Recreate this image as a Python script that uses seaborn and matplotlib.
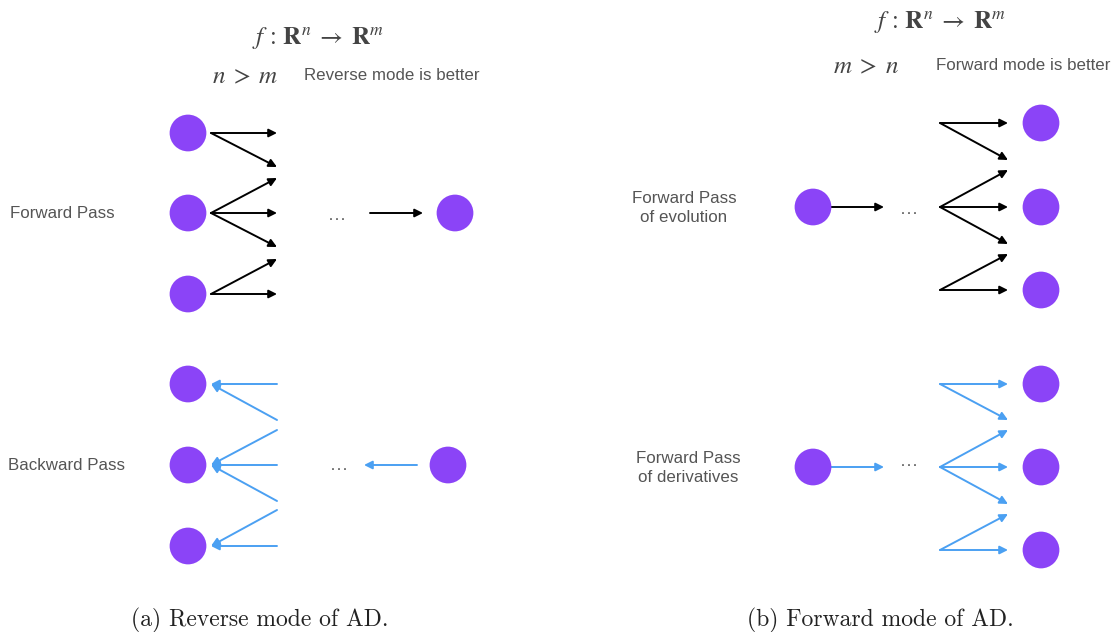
import matplotlib
matplotlib.use("Agg")
import matplotlib.pyplot as plt
import seaborn as sns
import pandas as pd

sns.set_theme(style="white")
plt.rcParams['font.family'] = ['Liberation Sans', 'DejaVu Sans']
plt.rcParams['mathtext.fontset'] = 'stix'

# ---- data (diagram layout in pixel units) ----
node_x = [188, 188, 188, 455, 188, 188, 188, 448, 813, 1041, 1041, 1041, 813, 1041, 1041, 1041]
node_y = [133, 213, 294, 213, 384, 465, 546, 465, 207, 123, 207, 290, 467, 384, 467, 550]

# arrows: (x0, y0, x1, y1)
fwd_left = [(211, 133, 277, 133), (211, 133, 277, 167), (211, 213, 277, 178), (211, 213, 277, 213),
            (211, 213, 277, 247), (211, 294, 277, 259), (211, 294, 277, 294), (370, 213, 423, 213)]
bwd_left = [(277, 384, 211, 384), (277, 420, 211, 384), (277, 430, 211, 465), (277, 465, 211, 465),
            (277, 501, 211, 465), (277, 510, 211, 546), (277, 546, 211, 546), (417, 465, 364, 465)]
fwd_right = [(830, 207, 884, 207), (940, 123, 1008, 123), (940, 123, 1008, 160), (940, 207, 1008, 170),
             (940, 207, 1008, 207), (940, 207, 1008, 244), (940, 290, 1008, 254), (940, 290, 1008, 290)]
der_right = [(830, 467, 884, 467), (940, 384, 1008, 384), (940, 384, 1008, 420), (940, 467, 1008, 430),
             (940, 467, 1008, 467), (940, 467, 1008, 504), (940, 550, 1008, 514), (940, 550, 1008, 550)]

dots_xy = [(336, 215), (338, 465), (908, 209), (908, 462)]

NODE = "#8B44F7"
BLUE = "#4BA0F2"
GRAY = "#555555"

fig = plt.figure(figsize=(11.2, 6.32), dpi=100)
ax = fig.add_axes([0, 0, 1, 1])

df = pd.DataFrame({"x": node_x, "y": node_y})
sns.scatterplot(data=df, x="x", y="y", ax=ax, s=700, color=NODE, edgecolor="none", zorder=3, legend=False)
ax.set_xlim(0, 1120)
ax.set_ylim(632, 0)
ax.axis("off")

def draw(arrs, col):
    for x0, y0, x1, y1 in arrs:
        ax.annotate("", xy=(x1, y1), xytext=(x0, y0),
                    arrowprops=dict(arrowstyle="-|>", color=col, lw=1.4,
                                    mutation_scale=12, shrinkA=0, shrinkB=0), zorder=2)

draw(fwd_left, "black")
draw(bwd_left, BLUE)
draw(fwd_right, "black")
draw(der_right, BLUE)

for x, y in dots_xy:
    ax.text(x, y, r"$\ldots$", ha="center", va="center", fontsize=13, color=GRAY)

MATH = "#444444"
head = r"$f\,:\,\mathbf{R}^n\;\rightarrow\;\mathbf{R}^m$"
ax.text(318, 38, head, ha="center", va="center", fontsize=18, color=MATH)
ax.text(245, 76, r"$n\;>\;m$", ha="center", va="center", fontsize=18, color=MATH)
ax.text(304, 76, "Reverse mode is better", ha="left", va="center", fontsize=12.2, color=GRAY)

ax.text(940, 22, head, ha="center", va="center", fontsize=18, color=MATH)
ax.text(866, 66, r"$m\;>\;n$", ha="center", va="center", fontsize=18, color=MATH)
ax.text(936, 66, "Forward mode is better", ha="left", va="center", fontsize=12.2, color=GRAY)

ax.text(10, 214, "Forward Pass", ha="left", va="center", fontsize=12.2, color=GRAY)
ax.text(8, 466, "Backward Pass", ha="left", va="center", fontsize=12.2, color=GRAY)
ax.text(684, 208, "Forward Pass\nof evolution", ha="center", va="center", fontsize=12.2, color=GRAY, linespacing=1.3)
ax.text(688, 468, "Forward Pass\nof derivatives", ha="center", va="center", fontsize=12.2, color=GRAY, linespacing=1.3)

ax.text(260, 620, "(a) Reverse mode of AD.", ha="center", va="center", fontsize=17, family="cmr10", color="#222222")
ax.text(880, 620, "(b) Forward mode of AD.", ha="center", va="center", fontsize=17, family="cmr10", color="#222222")

fig.savefig("out.png", dpi=100)
